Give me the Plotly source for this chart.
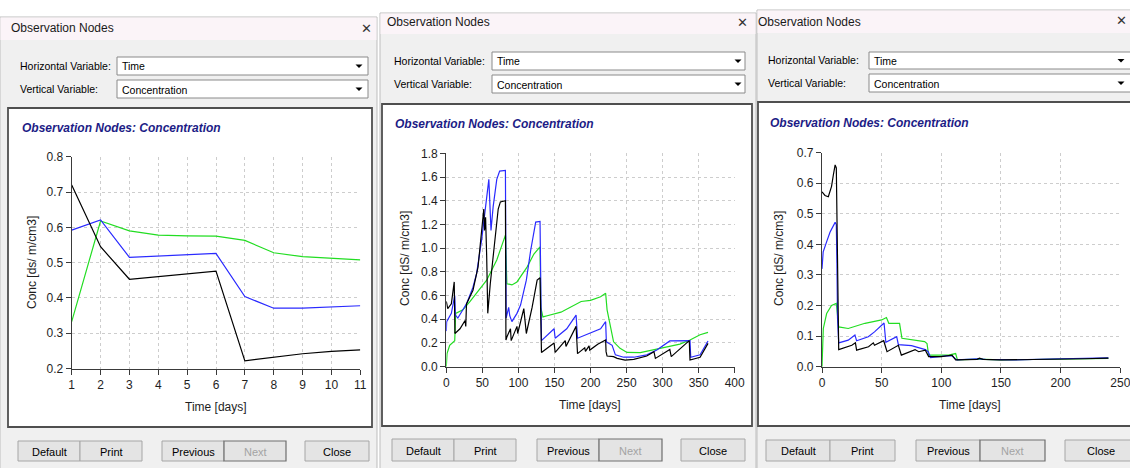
import plotly.graph_objects as go

# ---------------- data ----------------
P1_DAYS = [1, 2, 3, 4, 5, 6, 7, 8, 9, 10, 11]
P1_BLACK = [0.72, 0.545, 0.453, 0.46, 0.467, 0.476, 0.222, 0.232, 0.242, 0.249, 0.253]
P1_BLUE = [0.592, 0.621, 0.515, 0.518, 0.522, 0.526, 0.404, 0.371, 0.371, 0.375, 0.378]
P1_GREEN = [0.333, 0.618, 0.59, 0.578, 0.576, 0.575, 0.563, 0.528, 0.517, 0.512, 0.508]

P2_BLACK_T = [0, 2, 7, 11, 12, 19, 26, 27, 28, 37, 44, 49, 52, 53, 54.5, 56, 57.5, 61, 68, 72, 75, 82,
              82.7, 84, 89, 90, 98, 99, 107.5, 111, 119, 126, 130, 132, 149.5, 151, 165, 166, 180, 182,
              192, 193, 198, 199, 210, 221, 221.6, 223, 232, 237, 248, 260, 278, 288, 290, 310, 312,
              337, 338, 352, 363]
P2_BLACK_C = [0.55, 0.49, 0.53, 0.715, 0.28, 0.32, 0.39, 0.34, 0.53, 0.645, 0.84, 1.15, 1.33, 1.15, 1.26,
              0.93, 0.45, 0.70, 1.12, 1.33, 1.39, 1.40, 0.225, 0.25, 0.32, 0.22, 0.34, 0.28, 0.49, 0.28,
              0.50, 0.73, 0.75, 0.12, 0.20, 0.12, 0.22, 0.17, 0.34, 0.11, 0.16, 0.13, 0.175, 0.14, 0.19,
              0.225, 0.127, 0.09, 0.085, 0.07, 0.056, 0.062, 0.09, 0.127, 0.07, 0.146, 0.085, 0.22,
              0.056, 0.079, 0.197]
P2_BLUE_T = [0, 0.5, 7, 11.7, 12.6, 16, 23, 28, 37, 42, 49, 53, 56, 59, 62, 65, 70, 74, 82, 83, 86.5, 88,
             91, 98, 103, 111, 117, 124, 130, 131, 132, 149.5, 151, 167, 180, 182, 205, 214, 221, 222,
             230, 234.5, 246, 260, 278, 292, 310, 338, 339, 352, 363]
P2_BLUE_C = [0.30, 0.38, 0.45, 0.60, 0.435, 0.41, 0.48, 0.53, 0.67, 0.785, 1.07, 1.29, 1.46, 1.58, 1.15,
             1.35, 1.58, 1.65, 1.655, 0.41, 0.50, 0.43, 0.38, 0.45, 0.52, 0.73, 0.98, 1.22, 1.225, 0.435,
             0.22, 0.32, 0.24, 0.32, 0.435, 0.24, 0.30, 0.32, 0.38, 0.21, 0.18, 0.10, 0.08, 0.08, 0.10,
             0.14, 0.217, 0.22, 0.08, 0.10, 0.217]
P2_GREEN_T = [0, 1, 4.7, 11.7, 13, 23, 33, 42, 56, 70, 82, 84, 91, 98, 112, 121.5, 130, 131, 134, 140,
              159, 187, 200, 214, 221, 223, 227.6, 232, 241, 250.6, 269, 287, 306, 324, 338, 352, 363]
P2_GREEN_C = [0.0, 0.11, 0.18, 0.22, 0.45, 0.48, 0.55, 0.62, 0.73, 0.90, 1.11, 0.70, 0.69, 0.715, 0.84,
              0.95, 1.01, 0.50, 0.42, 0.43, 0.46, 0.55, 0.56, 0.59, 0.62, 0.48, 0.34, 0.21, 0.155, 0.12,
              0.118, 0.14, 0.163, 0.19, 0.225, 0.27, 0.29]

P3_BLACK_T = [0, 2.5, 5.3, 8, 9.5, 11, 12, 12.3, 13, 13.5, 14, 25, 28, 29, 39, 43, 44, 51.7, 54.5, 64,
              66.5, 78, 81, 86.6, 89.4, 100, 109, 112, 130, 132, 135, 150, 180, 200, 220, 240]
P3_BLACK_C = [0.572, 0.56, 0.556, 0.59, 0.627, 0.66, 0.65, 0.56, 0.27, 0.08, 0.056, 0.07, 0.078, 0.054,
              0.065, 0.078, 0.07, 0.085, 0.049, 0.07, 0.038, 0.056, 0.049, 0.054, 0.033, 0.033, 0.038,
              0.022, 0.024, 0.028, 0.024, 0.022, 0.023, 0.025, 0.026, 0.028]
P3_BLUE_T = [0, 1, 4, 6.7, 11, 12, 12.5, 13, 14, 22, 27.6, 29, 38.8, 44, 52, 53.5, 62.6, 64, 75, 79,
             86.6, 89, 91, 106, 109, 113, 130, 137, 160, 200, 240]
P3_BLUE_C = [0.32, 0.376, 0.41, 0.44, 0.472, 0.465, 0.34, 0.16, 0.078, 0.087, 0.104, 0.085, 0.098,
             0.114, 0.143, 0.08, 0.098, 0.072, 0.069, 0.065, 0.056, 0.049, 0.03, 0.036, 0.035, 0.022,
             0.026, 0.024, 0.022, 0.026, 0.029]
P3_GREEN_T = [0, 1.1, 3.9, 8, 12, 13, 14, 22, 36, 50, 54, 56, 65, 67, 78, 86, 88, 89.4, 106, 112, 113.5,
              130, 150, 180, 200, 240]
P3_GREEN_C = [0.0, 0.125, 0.174, 0.2, 0.207, 0.158, 0.13, 0.125, 0.142, 0.153, 0.161, 0.142, 0.142,
              0.093, 0.087, 0.082, 0.076, 0.038, 0.038, 0.043, 0.022, 0.025, 0.022, 0.024, 0.025, 0.027]

X1_TICKS = [1, 2, 3, 4, 5, 6, 7, 8, 9, 10, 11]
Y1_TICKS = [0.2, 0.3, 0.4, 0.5, 0.6, 0.7, 0.8]
X2_TICKS = [0, 50, 100, 150, 200, 250, 300, 350, 400]
Y2_TICKS = [0.0, 0.2, 0.4, 0.6, 0.8, 1.0, 1.2, 1.4, 1.6, 1.8]
X3_TICKS = [0, 50, 100, 150, 200, 250]
Y3_TICKS = [0.0, 0.1, 0.2, 0.3, 0.4, 0.5, 0.6, 0.7]

WINDOW_TITLE = "Observation Nodes"
CHART_TITLE = "Observation Nodes: Concentration"
H_LABEL = "Horizontal Variable:"
V_LABEL = "Vertical Variable:"
H_VALUE = "Time"
V_VALUE = "Concentration"
X_TITLE = "Time [days]"
Y_TITLES = ["Conc [ds/ m/cm3]", "Conc [dS/ m/cm3]", "Conc [dS/ m/cm3]"]
BUTTONS = ["Default", "Print", "Previous", "Next", "Close"]

# ---------------- layout helpers ----------------
W, H = 1130, 468
FONT = "Liberation Sans, Arial, sans-serif"
BLACK, BLUE, GREEN = "#000000", "#2a2aff", "#22dd22"


def X(px):
    return px / W


def Y(py):
    return 1 - py / H


shapes = []
annotations = []


def rect(x0, y0, x1, y1, fill, line=None, lw=1):
    shapes.append(dict(type="rect", xref="paper", yref="paper", layer="below",
                       x0=X(x0), x1=X(x1), y0=Y(y1), y1=Y(y0), fillcolor=fill,
                       line=dict(color=line if line else fill, width=lw if line else 0)))


def tri(cx, cy):
    shapes.append(dict(type="path", xref="paper", yref="paper", layer="below",
                       path=f"M {X(cx-3.5)},{Y(cy-1.5)} L {X(cx+3.5)},{Y(cy-1.5)} L {X(cx)},{Y(cy+2)} Z",
                       fillcolor="#000000", line=dict(width=0)))


def text(x, y, s, size=11, color="#000000", xanchor="left", angle=0, bold=False, italic=False):
    if bold:
        s = f"<b>{s}</b>"
    if italic:
        s = f"<i>{s}</i>"
    annotations.append(dict(x=X(x), y=Y(y), xref="paper", yref="paper", text=s, showarrow=False,
                            xanchor=xanchor, yanchor="middle", textangle=angle,
                            font=dict(family=FONT, size=size, color=color)))


PANELS = [
    dict(win=(0, 17, 377, 474), tb=40, title=(9, 28), close=(366, 28), lab_x=18, rows=(66, 89),
         dd=(117, 368), ddy=((57, 75), (80, 98)), arrow=359, frame=(8, 108, 372, 427),
         ctitle=(20, 128), btn_y=(441, 461),
         btns=[(18, 80), (80, 142), (162, 224), (224, 286), (305, 369)],
         xt=(216, 407), yt=(32, 263)),
    dict(win=(380, 13, 756, 474), tb=34, title=(385, 22), close=(742, 22), lab_x=392, rows=(61, 84),
         dd=(492, 745), ddy=((52, 70), (75, 93)), arrow=738, frame=(382, 104, 752, 426),
         ctitle=(393, 124), btn_y=(439, 461),
         btns=[(392, 454), (454, 516), (537, 599), (599, 662), (681, 745)],
         xt=(590, 405), yt=(405, 259)),
    dict(win=(757, 10, 1136, 474), tb=33, title=(756, 22), close=(1121, 21), lab_x=766, rows=(60, 83),
         dd=(869, 1136), ddy=((52, 69), (74, 92)), arrow=1121, frame=(758, 102, 1140, 426),
         ctitle=(768, 123), btn_y=(440, 461),
         btns=[(766, 830), (830, 895), (916, 980), (980, 1045), (1065, 1136)],
         xt=(970, 405), yt=(779, 259)),
]

for i, p in enumerate(PANELS):
    wx0, wy0, wx1, wy1 = p["win"]
    rect(wx0, wy0, wx1, wy1, "#f0f0f0", "#bdbdbd", 1)
    rect(wx0 + 0.5, wy0 + 0.5, wx1 - 0.5, p["tb"], "#fbf4f8")
    text(p["title"][0], p["title"][1], WINDOW_TITLE, size=12, color="#1a1a1a")
    text(p["close"][0], p["close"][1], "✕", size=13, color="#333333", xanchor="center")
    text(p["lab_x"], p["rows"][0], H_LABEL, size=10.5)
    text(p["lab_x"], p["rows"][1], V_LABEL, size=10.5)
    for (y0, y1), val in zip(p["ddy"], [H_VALUE, V_VALUE]):
        rect(p["dd"][0], y0, p["dd"][1], y1, "#ffffff", "#8a8a8a", 1)
        text(p["dd"][0] + 3, (y0 + y1) / 2 + 0.5, val, size=10.5)
        tri(p["arrow"], (y0 + y1) / 2)
    fx0, fy0, fx1, fy1 = p["frame"]
    rect(fx0, fy0, fx1, fy1, "#ffffff", "#4f4f4f", 1.8)
    text(p["ctitle"][0], p["ctitle"][1], CHART_TITLE, size=12, color="#1c1c86", bold=True, italic=True)
    text(p["xt"][0], p["xt"][1], X_TITLE, size=12, color="#1e1e1e", xanchor="center")
    text(p["yt"][0], p["yt"][1], Y_TITLES[i], size=12, color="#1e1e1e", xanchor="center", angle=-90)
    by0, by1 = p["btn_y"]
    for (bx0, bx1), lab in zip(p["btns"], BUTTONS):
        nxt = lab == "Next"
        rect(bx0, by0, bx1, by1, "#e4e4e4", "#6e6e6e" if nxt else "#a6a6a6", 1.2 if nxt else 1)
        text((bx0 + bx1) / 2, (by0 + by1) / 2 + 0.5, lab, size=11,
             color="#a3a3a3" if nxt else "#000000", xanchor="center")

# ---------------- traces ----------------
fig = go.Figure()
series = [
    ("x", "y", [(P1_DAYS, P1_GREEN, GREEN), (P1_DAYS, P1_BLUE, BLUE), (P1_DAYS, P1_BLACK, BLACK)]),
    ("x2", "y2", [(P2_GREEN_T, P2_GREEN_C, GREEN), (P2_BLUE_T, P2_BLUE_C, BLUE), (P2_BLACK_T, P2_BLACK_C, BLACK)]),
    ("x3", "y3", [(P3_GREEN_T, P3_GREEN_C, GREEN), (P3_BLUE_T, P3_BLUE_C, BLUE), (P3_BLACK_T, P3_BLACK_C, BLACK)]),
]
for xa, ya, lines in series:
    for xs, ys, col in lines:
        fig.add_trace(go.Scatter(x=xs, y=ys, mode="lines", line=dict(color=col, width=1.2),
                                 xaxis=xa, yaxis=ya, showlegend=False, hoverinfo="skip"))


def axis(domain, rng, ticks, fmt=None, anchor=None):
    d = dict(domain=domain, range=rng, tickvals=ticks, showgrid=True, gridcolor="#cdcdcd",
             griddash="3px,3px", gridwidth=1, showline=True, linecolor="#3a3a3a", linewidth=1.2,
             ticks="outside", ticklen=5, tickcolor="#3a3a3a", zeroline=False, fixedrange=True,
             tickfont=dict(family=FONT, size=12, color="#1e1e1e"), automargin=False, anchor=anchor,
             ticklabeloverflow="allow")
    if fmt:
        d["tickformat"] = fmt
    return d


fig.update_layout(
    width=W, height=H, margin=dict(l=0, r=0, t=0, b=0),
    paper_bgcolor="#ffffff", plot_bgcolor="rgba(0,0,0,0)",
    xaxis=axis([X(71.7), X(360.3)], [1, 11], X1_TICKS, anchor="y"),
    yaxis=axis([Y(368.6), Y(156.7)], [0.2, 0.8], Y1_TICKS, ".1f", anchor="x"),
    xaxis2=axis([X(446.3), X(734.7)], [0, 400], X2_TICKS, anchor="y2"),
    yaxis2=axis([Y(366.7), Y(153.3)], [0, 1.8], Y2_TICKS, ".1f", anchor="x2"),
    xaxis3=axis([X(822), X(1120.3)], [0, 250], X3_TICKS, anchor="y3"),
    yaxis3=axis([Y(366.7), Y(152.7)], [0, 0.7], Y3_TICKS, ".1f", anchor="x3"),
    shapes=shapes, annotations=annotations,
)

fig.write_html("out.html")
